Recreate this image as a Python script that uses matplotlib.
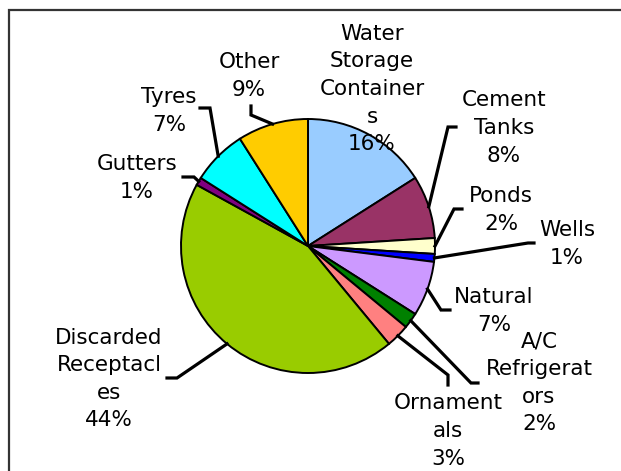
import numpy as np
import matplotlib
matplotlib.use("Agg")
import matplotlib.pyplot as plt

# Breeding site categories, clockwise from 12 o'clock
labels = ["Water\nStorage\nContainer\ns", "Cement\nTanks", "Ponds", "Wells", "Natural",
          "A/C\nRefrigerat\nors", "Ornament\nals", "Discarded\nReceptacl\nes",
          "Gutters", "Tyres", "Other"]
values = [16, 8, 2, 1, 7, 2, 3, 44, 1, 7, 9]
colors = ["#99CCFF", "#993366", "#FFFFCC", "#0000FF", "#CC99FF", "#008000",
          "#FF8080", "#99CC00", "#800080", "#00FFFF", "#FFCC00"]

# layout in pixel coords (y downwards): label centre and leader elbow/end points
label_pos = [(372, 89), (504, 128), (501, 210), (567, 244), (494, 311), (539, 383),
             (448, 431), (109, 379), (137, 178), (169, 111), (249, 76)]
leaders = [None,
           [(448, 127), (456, 127)],
           [(454, 209), (462, 209)],
           [(528, 243), (534, 243)],
           [(441, 310), (450, 310)],
           [(471, 383), (478, 383)],
           [(448, 375), (448, 385)],
           [(177, 378), (167, 378)],
           [(194, 177), (183, 177)],
           [(210, 108), (200, 108)],
           [(251, 115), (251, 106)]]

W, H = 621, 471
cx, cy, R = 308, 246, 127

fig = plt.figure(figsize=(W / 100, H / 100), dpi=100)
ax = fig.add_axes([0, 0, 1, 1])

# with the y axis flipped, startangle -90 is the top and counterclock runs clockwise
wedges, _ = ax.pie(values, colors=colors, startangle=-90, counterclock=True,
                   center=(cx, cy), radius=R,
                   wedgeprops=dict(edgecolor="black", linewidth=1.4))
ax.set_xlim(0, W)
ax.set_ylim(H, 0)  # y grows downwards like the picture
ax.set_aspect("equal")
ax.axis("off")

total = sum(values)
for w, lab, v, pos, ld in zip(wedges, labels, values, label_pos, leaders):
    ax.text(pos[0], pos[1], f"{lab}\n{round(100 * v / total)}%", ha="center", va="center",
            fontsize=15.5, color="black", linespacing=1.47)
    if ld is None:
        continue
    mid = np.deg2rad((w.theta1 + w.theta2) / 2)
    start = (cx + R * np.cos(mid), cy + R * np.sin(mid))
    pts = [start] + ld
    ax.plot([p[0] for p in pts], [p[1] for p in pts], color="black", lw=2.3,
            solid_joinstyle="miter", zorder=3)

# chart frame: only top and left edges are visible in the crop
ax.plot([9, 9, W], [H, 10, 10], color="#333333", lw=1.6, solid_joinstyle="miter")

fig.savefig("out.png", dpi=100)
